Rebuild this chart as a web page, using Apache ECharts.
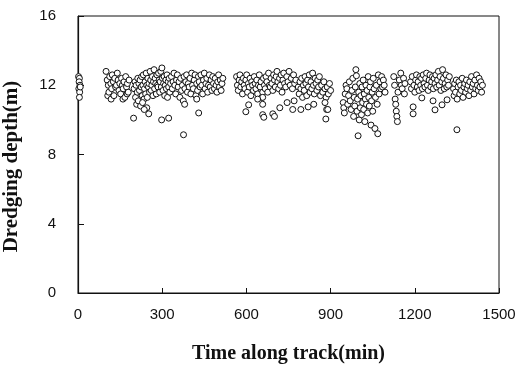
<!DOCTYPE html>
<html>
<head>
<meta charset="utf-8">
<script src="https://cdn.jsdelivr.net/npm/echarts@6/dist/echarts.min.js"></script>
<style>
  html, body { margin: 0; padding: 0; background: #fff; }
  #chart { width: 519px; height: 365px; }
</style>
</head>
<body>
<div id="chart"></div>
<script>
// [time (min), dredging depth (m)], one array per track section
const start = [[2,12.5],[5,12.4],[4,12.2],[7,12.0],[3,11.8],[6,11.6],[5,11.3],[8,11.9]]

const section1 = [[100,12.8],[104,12.3],[106,11.4],[108,12.0],[110,11.6],[113,12.5],[117,12.1],[118,11.2],[120,11.8],[122,12.6],
  [126,12.2],[128,11.4],[131,12.4],[134,11.9],[137,12.0],[140,12.7],[143,12.3],[146,11.7],[149,12.1],[152,11.5],
  [155,12.4],[158,12.0],[160,11.2],[161,11.8],[164,12.2],[167,11.3],[170,12.5],[173,11.9],[175,11.5],[176,12.1],
  [179,11.6],[182,12.3]]

const section2 = [[200,11.8],[203,12.2],[205,11.3],[207,12.0],[209,10.9],[211,11.6],[213,12.4],[215,11.1],[217,12.1],[219,11.7],
  [221,12.3],[223,10.8],[225,11.9],[227,12.5],[229,11.4],[231,12.0],[233,12.6],[235,11.2],[237,11.8],[239,12.2],
  [241,11.5],[243,12.7],[245,12.0],[247,11.3],[249,12.4],[251,11.9],[253,12.1],[255,11.6],[257,12.8],[259,12.3],
  [261,11.7],[263,12.0],[265,12.5],[267,11.4],[269,12.2],[271,12.9],[273,11.8],[275,12.4],[277,12.1],[279,11.5],
  [281,12.6],[283,12.0],[285,11.9],[287,12.7],[289,12.3],[291,11.6],[293,12.2],[295,12.8],[297,11.9],[299,13.0],
  [301,12.4],[303,11.7],[305,12.1],[307,12.5],[309,11.4],[311,12.0],[313,12.3],[315,11.8],[317,12.6],[319,11.3],
  [321,12.2],[323,11.9],[325,12.4],[327,11.6],[330,12.1],[333,12.5],[336,11.8],[339,12.2],[342,12.7],[345,12.0],
  [348,11.5],[351,12.3],[354,12.6],[357,11.9],[360,12.2],[363,11.3],[366,12.4],[369,11.7],[372,12.0],[375,11.1],
  [378,12.5],[381,11.8],[384,12.2],[387,12.6],[390,11.6],[393,12.1],[396,11.9],[399,12.4],[402,11.5],[405,12.7],
  [408,12.0],[411,11.8],[414,12.3],[417,12.6],[420,11.4],[423,12.1],[426,11.7],[429,12.5],[432,12.2],[435,11.9],
  [438,12.6],[441,12.0],[444,11.5],[447,12.3],[450,12.7],[453,11.8],[456,12.1],[459,12.4],[462,11.6],[465,12.0],
  [468,12.6],[471,11.9],[474,12.3],[477,11.7],[480,12.5],[483,12.1],[486,11.8],[489,12.4],[492,12.0],[495,11.6],
  [498,12.2],[501,12.6],[504,11.9],[507,12.3],[510,11.7],[513,12.1],[516,12.4],
  [198,10.1],[245,10.7],[252,10.35],[298,10.0],[323,10.1],[376,9.14],[430,10.4],[230,11.0],[236,10.6],[380,10.9],[423,11.2]]

const section3 = [[565,12.5],[568,12.0],[571,11.7],[574,12.3],[577,12.6],[580,11.9],[583,12.2],[586,11.5],[589,12.4],[592,12.0],
  [595,11.8],[598,12.3],[601,12.6],[604,11.6],[607,12.1],[610,11.9],[613,12.4],[616,11.4],[619,12.2],[622,12.0],
  [625,11.7],[628,12.5],[631,12.1],[634,11.8],[637,12.3],[640,11.5],[643,12.0],[646,12.6],[649,11.9],[652,12.2],
  [655,11.3],[658,11.6],[661,12.4],[664,12.0],[667,11.8],[670,12.5],[673,12.2],[676,11.6],[679,12.7],[682,12.0],
  [685,11.9],[688,12.4],[691,12.1],[694,11.7],[697,12.6],[700,12.3],[703,11.9],[706,12.5],[709,12.8],[712,12.2],
  [715,11.8],[718,12.4],[721,12.0],[724,12.6],[727,11.6],[730,12.3],[733,12.7],[736,12.1],[740,11.9],[744,12.5],
  [748,12.2],[752,12.8],[756,12.0],[760,12.4],[764,11.8],[768,12.6],[772,12.1],[776,12.3],
  [598,10.47],[608,10.87],[658,11.3],[658,10.9],[658,10.3],[662,10.15],[694,10.35],[700,10.2],[719,10.7],[640,11.2],[745,11.0],[770,11.1]]

const section4 = [[785,11.9],[788,11.5],[791,12.2],[794,11.8],[797,12.4],[800,11.3],[803,12.0],[806,11.7],[809,12.5],[812,12.1],
  [815,11.4],[818,12.3],[821,11.9],[824,12.6],[827,11.6],[830,12.2],[833,11.8],[836,12.7],[839,12.0],[842,11.5],
  [845,12.4],[848,12.1],[851,11.7],[854,12.3],[857,11.9],[860,12.5],[864,11.4],[868,12.0],[872,11.6],[876,12.2],
  [880,11.8],[884,11.3],[888,11.9],[892,11.5],[896,12.1],[900,11.7],
  [765,10.6],[794,10.6],[820,10.75],[840,10.9],[880,11.0],[883,10.05],[886,10.6],[890,10.6]]

const section5 = [[945,11.0],[947,10.7],[949,10.4],[952,11.5],[955,12.0],[958,11.8],[961,10.9],[964,11.4],[967,12.2],[970,11.1],
  [973,10.6],[976,11.7],[979,12.4],[982,10.2],[984,11.3],[986,10.8],[988,11.9],[990,12.9],[992,12.55],[994,10.5],
  [996,11.2],[998,9.08],[1000,11.6],[1002,10.0],[1004,12.1],[1006,10.7],[1008,11.4],[1010,10.3],[1012,11.9],[1014,11.0],
  [1016,12.3],[1018,10.6],[1020,11.5],[1022,9.9],[1024,11.2],[1026,12.0],[1028,10.9],[1030,11.7],[1032,10.4],[1034,12.5],
  [1036,11.3],[1038,10.8],[1040,11.9],[1042,12.2],[1044,9.7],[1046,11.1],[1048,11.6],[1050,10.5],[1052,12.4],[1055,11.8],
  [1058,9.5],[1060,11.3],[1063,12.0],[1066,10.9],[1068,9.2],[1070,12.6],[1073,11.5],[1076,12.2],[1079,11.8],[1082,12.5],
  [1085,11.9],[1088,12.3],[1091,12.0],[1094,11.6]]

const section6 = [[1125,12.5],[1128,12.0],[1130,11.2],[1132,10.9],[1134,10.5],[1136,10.2],[1138,9.9],[1140,11.6],[1145,12.3],[1150,12.7],
  [1152,12.0],[1155,11.8],[1160,12.4],[1163,11.5],[1165,12.1]]

const section7 = [[1185,12.2],[1188,11.8],[1191,12.5],[1194,10.75],[1194,10.35],[1197,12.0],[1200,11.6],[1203,12.3],[1206,12.6],[1209,11.9],
  [1212,12.2],[1215,11.7],[1218,12.5],[1221,12.0],[1224,12.4],[1225,11.27],[1227,11.8],[1230,12.6],[1233,12.1],[1236,11.9],
  [1239,12.4],[1242,12.7],[1245,12.0],[1248,11.7],[1251,12.3],[1254,12.6],[1257,11.9],[1260,12.2],[1263,12.5],[1265,11.1],
  [1266,11.8],[1269,12.4],[1272,10.58],[1272,12.1],[1275,12.6],[1278,11.9],[1281,12.3],[1284,12.8],[1287,12.0],[1290,12.5],
  [1293,11.7],[1296,12.2],[1297,10.87],[1299,12.9],[1302,12.4],[1305,11.8],[1308,12.1],[1311,12.6],[1314,11.9],[1315,11.16],
  [1317,12.3],[1320,12.0],[1323,12.5]]

const section8 = [[1338,11.8],[1340,11.4],[1342,12.1],[1345,11.6],[1348,12.3],[1350,9.43],[1351,11.2],[1354,11.9],[1357,12.2],[1360,11.5],
  [1363,12.0],[1366,11.7],[1369,12.4],[1372,11.3],[1375,11.9],[1378,12.1],[1381,11.6],[1384,12.3],[1387,11.8],[1390,12.0],
  [1393,11.4],[1396,12.2],[1399,11.7],[1402,12.5],[1405,11.9],[1408,12.1],[1411,11.5],[1414,12.3],[1417,11.8],[1420,12.6],
  [1423,12.0],[1426,11.7],[1429,12.4],[1432,11.9],[1435,12.2],[1438,11.6],[1441,12.0]]

const xTicks = [0, 300, 600, 900, 1200, 1500]
const yTicks = [0, 4, 8, 12, 16]

const points = [].concat(start, section1, section2, section3, section4, section5, section6, section7, section8)

const myChart = echarts.init(document.getElementById('chart'))

const tickFont = { color: '#111', fontSize: 15, fontFamily: 'Liberation Sans, Arial, sans-serif' }
const nameFont = { color: '#111', fontSize: 20, fontWeight: 'bold', fontFamily: 'Liberation Serif, Times New Roman, serif' }

const options = {
  animation: false,
  grid: {
    left: 78, right: 20, top: 16, bottom: 72,
    outerBoundsMode: 'none',
    containLabel: false,
    show: true, borderColor: '#111', borderWidth: 1
  },
  xAxis: {
    type: 'value',
    min: xTicks[0],
    max: xTicks[xTicks.length - 1],
    interval: 300,
    name: 'Time along track(min)',
    nameLocation: 'middle',
    nameGap: 51,
    nameTextStyle: nameFont,
    axisLine: { lineStyle: { color: '#111', width: 1.2 } },
    axisTick: { inside: true, length: 5, lineStyle: { color: '#111' } },
    axisLabel: Object.assign({ margin: 14, formatter: (v) => String(v) }, tickFont),
    splitLine: { show: false }
  },
  yAxis: {
    type: 'value',
    min: yTicks[0],
    max: yTicks[yTicks.length - 1],
    interval: 4,
    name: 'Dredging depth(m)',
    nameLocation: 'middle',
    nameGap: 56,
    nameRotate: 90,
    nameTextStyle: Object.assign({ padding: [0, 24, 0, 0] }, nameFont, { fontSize: 21 }),
    axisLine: { lineStyle: { color: '#111', width: 1.2 } },
    axisTick: { inside: true, length: 6, lineStyle: { color: '#111' } },
    axisLabel: Object.assign({ margin: 22 }, tickFont),
    splitLine: { show: false }
  },
  series: [
    {
      type: 'scatter',
      data: points,
      symbol: 'circle',
      symbolSize: 6,
      itemStyle: { color: '#fff', borderColor: '#111', borderWidth: 1, opacity: 1 }
    }
  ]
}
myChart.setOption(options)
</script>
</body>
</html>
